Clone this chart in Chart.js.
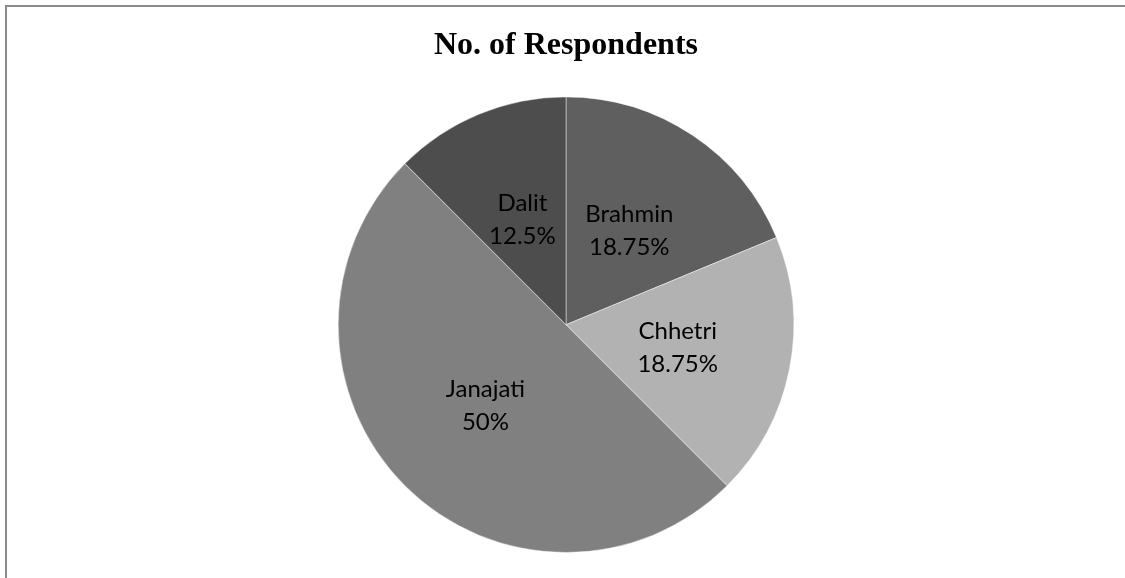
<!DOCTYPE html>
<html>
<head>
<meta charset="utf-8">
<script src="https://cdn.jsdelivr.net/npm/chart.js@4/dist/chart.umd.min.js"></script>
<style>
  html, body { margin: 0; padding: 0; background: #fff; }
  #wrap { position: relative; width: 1125px; height: 578px; overflow: hidden; }
  #frame {
    position: absolute; left: 5px; top: 5px; right: -10px; bottom: -10px;
    border-top: 2px solid #8a8a8a; border-left: 2px solid #8a8a8a;
  }
  #pie { position: absolute; left: 0; top: 0; }
</style>
</head>
<body>
<div id="wrap">
  <div id="frame"></div>
  <canvas id="pie" width="1125" height="578"></canvas>
</div>
<script>
const groups = ["Brahmin", "Chhetri", "Janajati", "Dalit"];
const respondents = [3, 3, 8, 2];
const sliceColors = ["#5f5f5f", "#b2b2b2", "#808080", "#4d4d4d"];

const total = respondents.reduce((a, b) => a + b, 0);

function pct(v) {
  return String(+(v / total * 100).toFixed(2)) + "%";
}

// writes "name / percent" in the middle of each slice
const sliceLabels = {
  id: "sliceLabels",
  afterDatasetsDraw(chart) {
    const ctx = chart.ctx;
    const meta = chart.getDatasetMeta(0);
    ctx.save();
    ctx.font = "24px Lato";
    ctx.fillStyle = "#000";
    ctx.textAlign = "center";
    ctx.textBaseline = "middle";
    meta.data.forEach((arc, i) => {
      const p = arc.getProps(["x", "y", "startAngle", "endAngle", "outerRadius"], true);
      const mid = (p.startAngle + p.endAngle) / 2;
      const r = p.outerRadius * 0.5;
      const cx = p.x + Math.cos(mid) * r;
      const cy = p.y + Math.sin(mid) * r;
      ctx.fillText(groups[i], cx, cy - 16);
      ctx.fillText(pct(respondents[i]), cx, cy + 17);
    });
    ctx.restore();
  }
};

new Chart(document.getElementById("pie").getContext("2d"), {
  type: "pie",
  data: {
    labels: groups,
    datasets: [{
      data: respondents,
      backgroundColor: sliceColors,
      borderColor: "rgba(255,255,255,0.45)",
      borderWidth: 1
    }]
  },
  options: {
    responsive: false,
    animation: false,
    layout: { padding: { top: 0, bottom: 25, left: 337, right: 330 } },
    plugins: {
      legend: { display: false },
      tooltip: { enabled: false },
      title: {
        display: true,
        text: "No. of Respondents",
        color: "#000",
        font: { family: "'Liberation Serif'", size: 32, weight: "bold", lineHeight: 1.2 },
        padding: { top: 27, bottom: 31 }
      }
    }
  },
  plugins: [sliceLabels]
});
</script>
</body>
</html>
